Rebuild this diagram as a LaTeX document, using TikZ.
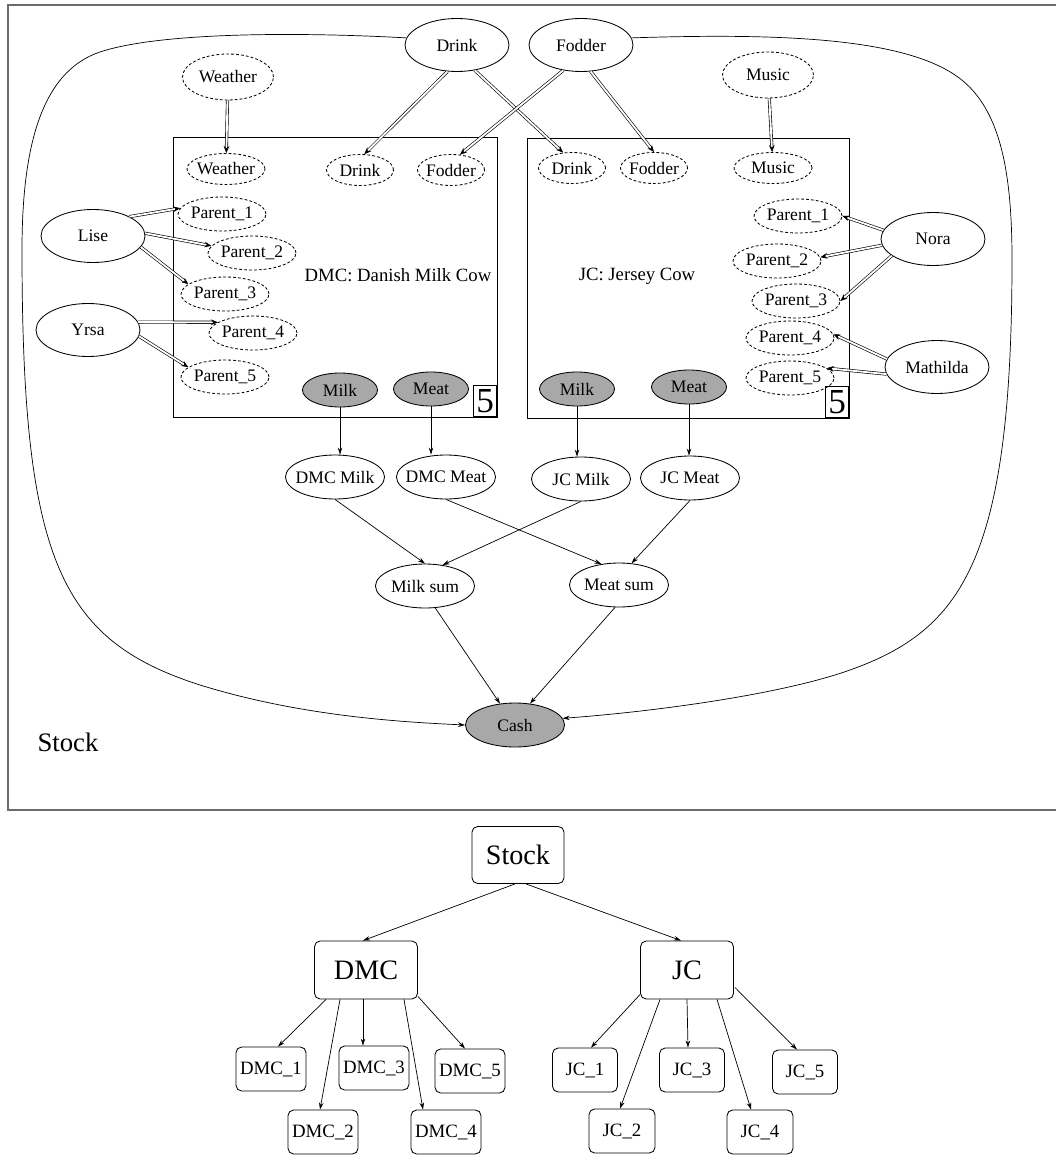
\documentclass[tikz,border=0pt]{standalone}
\usepackage{fontspec}
\setmainfont{Liberation Serif}
\usepackage{tikz}
\usetikzlibrary{shapes.geometric, arrows.meta, calc, positioning}
\newcommand{\pix}{0.025cm}
\newcommand{\lab}{\fontsize{12.5}{14}\selectfont}
\newcommand{\platelab}{\fontsize{13.3}{15}\selectfont}
\newcommand{\fivelab}{\fontsize{25}{25}\selectfont}
\newcommand{\stocklab}{\fontsize{19}{21}\selectfont}
\newcommand{\treelab}{\fontsize{13.4}{15}\selectfont}
\definecolor{cowgray}{gray}{0.66}
\definecolor{framegray}{gray}{0.42}

\tikzset{
    ell/.style={ellipse, draw, line width=0.6pt, inner sep=-20pt, font=\lab},
    topvar/.style={ell, minimum width=104*\pix, minimum height=53*\pix},
    extvar/.style={ell, dash pattern=on 2pt off 1.5pt, minimum width=91*\pix, minimum height=46*\pix},
    innvar/.style={ell, dash pattern=on 2pt off 1.5pt, minimum width=67*\pix, minimum height=31*\pix},
    wideinn/.style={innvar, minimum width=78*\pix},
    parvar/.style={ell, dash pattern=on 2pt off 1.5pt, minimum width=88*\pix, minimum height=34*\pix},
    obsvar/.style={ell, fill=cowgray, minimum width=75*\pix, minimum height=34*\pix},
    midvar/.style={ell, minimum width=99*\pix, minimum height=44*\pix},
    treebox/.style={draw, rectangle, rounded corners=4pt, line width=0.6pt, inner sep=0pt,
        font=\treelab, minimum width=70*\pix, minimum height=44*\pix},
    bigbox/.style={treebox, font=\fontsize{20}{22}\selectfont, minimum height=58*\pix},
    arr/.style={line width=0.5pt, -{Stealth[length=5pt, width=3.2pt]}},
    dbl/.style={double, double distance=1.3pt, line width=0.45pt, -{Stealth[length=5pt, width=4pt]}},
}

\begin{document}
\begin{tikzpicture}[x=0.025cm, y=-0.025cm]
    \useasboundingbox (0,0) rectangle (1055,1155);

    % Stock frame
    \draw[framegray, line width=1.4pt] (1058,5) -- (8,5) -- (8,810) -- (1058,810);
    \node[font=\stocklab] (stocklab) at (68,742) {Stock};

    % Plates
    \draw[line width=0.6pt] (173,137) rectangle (497,417);
    \draw[line width=0.6pt] (527,138) rectangle (849,418);
    \node[font=\platelab] (dmclab) at (398,275) {DMC: Danish Milk Cow};
    \node[font=\platelab] (jclab) at (637,276) {JC: Jersey Cow};
    \node[draw, line width=0.6pt, inner sep=0pt, minimum width=23*\pix, minimum height=31*\pix,
        font=\fivelab, anchor=south east] (dmcn) at (497,417) {5};
    \node[draw, line width=0.6pt, inner sep=0pt, minimum width=23*\pix, minimum height=31*\pix,
        font=\fivelab, anchor=south east] (jcn) at (849,418) {5};

    % Outer variables
    \node[topvar] (drink) at (457,45) {Drink};
    \node[topvar] (fodder) at (581,45) {Fodder};
    \node[extvar] (wtop) at (228,77) {Weather};
    \node[extvar] (mtop) at (768,75) {Music};
    \node[topvar] (lise) at (93,236) {Lise};
    \node[topvar] (yrsa) at (88,330) {Yrsa};
    \node[topvar] (nora) at (933,239) {Nora};
    \node[topvar] (mathilda) at (937,367) {Mathilda};

    % DMC plate
    \node[wideinn] (dweather) at (226,169) {Weather};
    \node[innvar] (ddrink) at (360,170) {Drink};
    \node[innvar] (dfodder) at (451,170) {Fodder};
    \node[parvar] (dp1) at (222,214) {Parent\_1};
    \node[parvar] (dp2) at (252,253) {Parent\_2};
    \node[parvar] (dp3) at (225,294) {Parent\_3};
    \node[parvar] (dp4) at (253,333) {Parent\_4};
    \node[parvar] (dp5) at (225,377) {Parent\_5};
    \node[obsvar] (dmilk) at (340,390) {Milk};
    \node[obsvar] (dmeat) at (431,389) {Meat};

    % JC plate
    \node[innvar] (jdrink) at (572,168) {Drink};
    \node[innvar] (jfodder) at (654,168) {Fodder};
    \node[wideinn] (jmusic) at (773,168) {Music};
    \node[parvar] (jp1) at (798,216) {Parent\_1};
    \node[parvar] (jp2) at (777,261) {Parent\_2};
    \node[parvar] (jp3) at (796,301) {Parent\_3};
    \node[parvar] (jp4) at (790,338) {Parent\_4};
    \node[parvar] (jp5) at (790,378) {Parent\_5};
    \node[obsvar] (jmilk) at (577,389) {Milk};
    \node[obsvar] (jmeat) at (689,387) {Meat};

    % Sums
    \node[midvar] (dmcmilk) at (335,477) {DMC Milk};
    \node[midvar] (dmcmeat) at (446,477) {DMC Meat};
    \node[midvar] (jcmilk) at (581,479) {JC Milk};
    \node[midvar] (jcmeat) at (690,478) {JC Meat};
    \node[midvar] (milksum) at (425,586) {Milk sum};
    \node[midvar] (meatsum) at (619,585) {Meat sum};
    \node[midvar, fill=cowgray] (cash) at (515,725) {Cash};

    % Double links into the plates
    \draw[dbl] (wtop) -- (dweather);
    \draw[dbl] (mtop) -- (jmusic);
    \draw[dbl] (drink.-110) -- (ddrink.75);
    \draw[dbl] (drink.-55) -- (jdrink.120);
    \draw[dbl] (fodder.-125) -- (dfodder.60);
    \draw[dbl] (fodder.-70) -- (jfodder.north);
    \draw[dbl] (lise.28) -- (dp1.172);
    \draw[dbl] (lise.3) -- (dp2.170);
    \draw[dbl] (lise.-13) -- (dp3.165);
    \draw[dbl] (yrsa.9) -- (dp4.163);
    \draw[dbl] (yrsa.-7) -- (dp5.165);
    \draw[dbl] (nora.170) -- (jp1.east);
    \draw[dbl] (nora.187) -- (jp2.5);
    \draw[dbl] (nora.202) -- (jp3.east);
    \draw[dbl] (mathilda.171) -- (jp4.5);
    \draw[dbl] (mathilda.188) -- (jp5.15);

    % Links out of the plates
    \draw[arr] (dmilk.south) -- (dmilk.south |- dmcmilk.north);
    \draw[arr] (dmeat.south) -- (dmeat.south |- dmcmeat.north);
    \draw[arr] (jmilk.south) -- (jmilk.south |- jcmilk.north);
    \draw[arr] (jmeat.south) -- (jmeat.south |- jcmeat.north);
    \draw[arr] (dmcmilk.south) -- (milksum.north);
    \draw[arr] (jcmilk.south) -- (milksum.50);
    \draw[arr] (dmcmeat.south) -- (meatsum.130);
    \draw[arr] (jcmeat.south) -- (meatsum.60);
    \draw[arr] (milksum.-65) -- (cash.125);
    \draw[arr] (meatsum.-100) -- (cash.55);

    % Drink and Fodder straight to Cash
    \draw[arr] (drink.172) .. controls (300,32) and (160,32) .. (100,52)
        .. controls (40,72) and (22,150) .. (22,250)
        .. controls (22,560) and (60,640) .. (200,685)
        .. controls (300,716) and (400,722) .. (cash.west);
    \draw[arr] (fodder.8) .. controls (780,33) and (900,38) .. (955,75)
        .. controls (1000,105) and (1012,170) .. (1012,260)
        .. controls (1012,560) and (962,630) .. (850,670)
        .. controls (780,695) and (650,712) .. (cash.8);

    % Class tree
    \node[bigbox, minimum width=92*\pix, minimum height=57*\pix] (stock) at (518,855) {Stock};
    \node[bigbox, minimum width=103*\pix] (dmc) at (366,970) {DMC};
    \node[bigbox, minimum width=93*\pix] (jc) at (687,970) {JC};
    \node[treebox] (d1) at (271,1069) {DMC\_1};
    \node[treebox] (d2) at (323,1132) {DMC\_2};
    \node[treebox] (d3) at (374,1068) {DMC\_3};
    \node[treebox] (d4) at (446,1132) {DMC\_4};
    \node[treebox] (d5) at (470,1071) {DMC\_5};
    \node[treebox, minimum width=65*\pix] (j1) at (585,1070) {JC\_1};
    \node[treebox, minimum width=66*\pix] (j2) at (622,1131) {JC\_2};
    \node[treebox, minimum width=65*\pix] (j3) at (692,1070) {JC\_3};
    \node[treebox, minimum width=66*\pix] (j4) at (760,1132) {JC\_4};
    \node[treebox, minimum width=65*\pix] (j5) at (805,1072) {JC\_5};

    \draw[arr] ($(stock.south)+(-3,0)$) -- ($(dmc.north)+(-3,0)$);
    \draw[arr] ($(stock.south)+(8,0)$) -- ($(jc.north)+(-6,0)$);
    \draw[arr] ($(dmc.south)+(-40,0)$) -- ($(d1.north)+(7,0)$);
    \draw[arr] ($(dmc.south)+(-26,0)$) -- ($(d2.north)+(-3,0)$);
    \draw[arr] ($(dmc.south)+(-3,0)$) -- ($(d3.north)+(-11,0)$);
    \draw[arr] ($(dmc.south)+(38,0)$) -- ($(d4.north)+(-23,0)$);
    \draw[arr] ($(dmc.south east)+(0,-3)$) -- ($(d5.north)+(-5,0)$);
    \draw[arr] ($(jc.south west)+(0,-5)$) -- ($(j1.north)+(6,0)$);
    \draw[arr] ($(jc.south)+(-27,0)$) -- ($(j2.north)+(-2,0)$);
    \draw[arr] ($(jc.south)+(0,0)$) -- ($(j3.north)+(-4,0)$);
    \draw[arr] ($(jc.south)+(30,0)$) -- ($(j4.north)+(-9,0)$);
    \draw[arr] ($(jc.south east)+(1,-12)$) -- ($(j5.north)+(-8,0)$);
\end{tikzpicture}
\end{document}
